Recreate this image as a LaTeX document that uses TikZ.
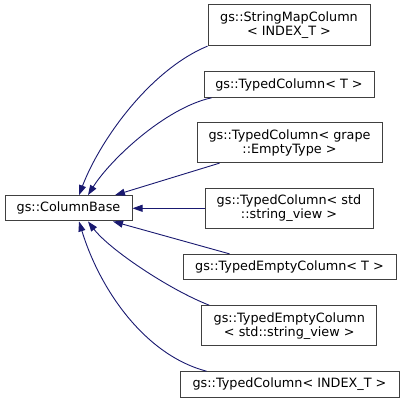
\documentclass[tikz,border=0pt]{standalone}
\usepackage{fontspec}
\setmainfont{DejaVu Sans}
\usetikzlibrary{arrows.meta}
\definecolor{edgeblue}{HTML}{191970}
\definecolor{frame}{HTML}{404040}
\tikzset{
  cls/.style={draw=frame, line width=1pt, fill=white, inner sep=2pt,
              align=center, font=\fontsize{12.8}{14}\selectfont},
  inherit/.style={-{Triangle[length=10pt,width=7pt]}, edgeblue, line width=0.9pt},
}

\begin{document}
\begin{tikzpicture}[x=1pt,y=-1pt]
        \useasboundingbox (0,0) rectangle (404,403);
        \node[cls,minimum width=127pt,minimum height=25.3pt] (base) at (68.5,208.3) {gs::ColumnBase};
        \node[cls,minimum width=162pt,minimum height=40.7pt] (smap) at (289,25.3) {gs::StringMapColumn\\< INDEX\_T >};
        \node[cls,minimum width=170pt,minimum height=25.6pt] (tcol) at (289,84.5) {gs::TypedColumn< T >};
        \node[cls,minimum width=185pt,minimum height=39.7pt] (tgrape) at (289.5,142.8) {gs::TypedColumn< grape\\::EmptyType >};
        \node[cls,minimum width=168pt,minimum height=40pt] (tstd) at (289,208.3) {gs::TypedColumn< std\\::string\_view >};
        \node[cls,minimum width=213pt,minimum height=24.7pt] (tempty) at (289.5,266.7) {gs::TypedEmptyColumn< T >};
        \node[cls,minimum width=175.3pt,minimum height=40.3pt] (temptystd) at (289.3,325.8) {gs::TypedEmptyColumn\\< std::string\_view >};
        \node[cls,minimum width=219pt,minimum height=25.6pt] (tindex) at (289.5,384.5) {gs::TypedColumn< INDEX\_T >};
        % derived classes point back to the base
        \draw[inherit] (smap.south west) .. controls (150,70) and (100,140) .. ([xshift=10.5pt]base.north);
        \draw[inherit] ([xshift=8pt]tcol.south west) .. controls (165,108) and (110,160) .. ([xshift=19.5pt]base.north);
        \draw[inherit] ([xshift=23pt]tgrape.south west) -- ([xshift=46.5pt]base.north);
        \draw[inherit] (tstd.west) -- (base.east);
        \draw[inherit] ([xshift=47pt]tempty.north west) -- ([xshift=44.5pt]base.south);
        \draw[inherit] ([xshift=8pt]temptystd.north west) .. controls (170,290) and (110,250) .. ([xshift=19.5pt]base.south);
        \draw[inherit] ([xshift=27pt]tindex.north west) .. controls (145,355) and (100,290) .. ([xshift=10.5pt]base.south);
      \end{tikzpicture}
\end{document}
